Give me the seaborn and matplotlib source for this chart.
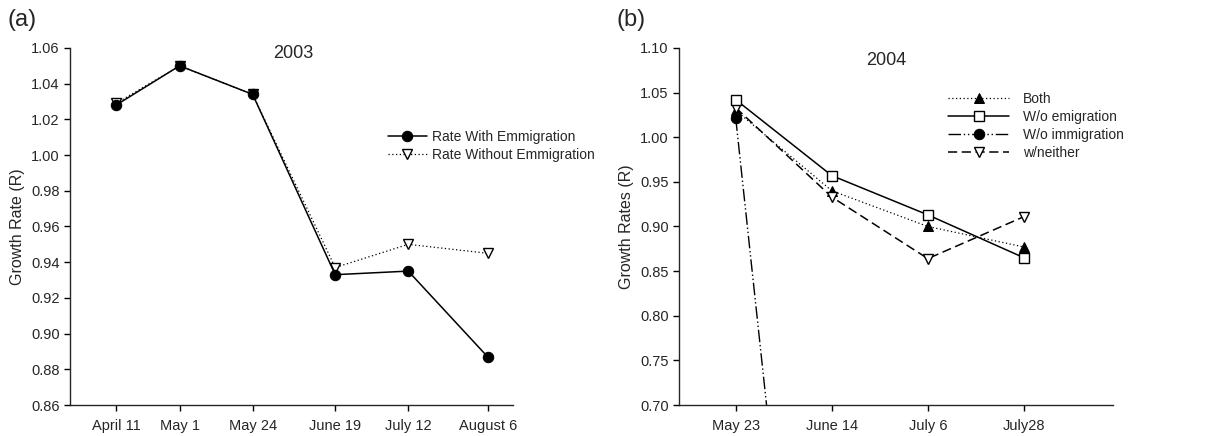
import pandas as pd
import seaborn as sns
import matplotlib
matplotlib.use('Agg')
import matplotlib.pyplot as plt

# 2003 sampling dates and rates
dates_2003 = ['2003-04-11', '2003-05-01', '2003-05-24', '2003-06-19', '2003-07-12', '2003-08-06']
labels_2003 = ['April 11', 'May 1', 'May 24', 'June 19', 'July 12', 'August 6']
rate_with_emm = [1.028, 1.050, 1.034, 0.933, 0.935, 0.887]
rate_without_emm = [1.029, 1.050, 1.034, 0.937, 0.950, 0.945]

# 2004 sampling dates and rates
dates_2004 = ['2004-05-23', '2004-06-14', '2004-07-06', '2004-07-28']
labels_2004 = ['May 23', 'June 14', 'July 6', 'July28']
both = [1.030, 0.940, 0.900, 0.877]
wo_emigration = [1.042, 0.957, 0.913, 0.865]
wo_immigration = [1.021, 0.020, 0.020, 0.020]
w_neither = [1.033, 0.933, 0.864, 0.911]


def to_days(dates):
    '''
    days since first sampling date
    '''
    d = pd.to_datetime(pd.Series(dates))
    return (d - d.iloc[0]).dt.days.values


sns.set_style('ticks')
plt.rcParams['font.family'] = ['Liberation Sans', 'DejaVu Sans']
plt.rcParams['axes.linewidth'] = 1.0

fig = plt.figure(figsize=(12.14, 4.36), dpi=100)
ax1 = fig.add_axes([0.0577, 0.0711, 0.3649, 0.8189])
ax2 = fig.add_axes([0.5593, 0.0711, 0.3575, 0.8189])

# panel (a)
df_a = pd.DataFrame({'day': to_days(dates_2003),
                     'with': rate_with_emm,
                     'without': rate_without_emm})

sns.lineplot(data=df_a, x='day', y='without', ax=ax1, color='black',
             linestyle=(0, (1, 2)), linewidth=0.9, marker='v', markersize=7.5,
             markerfacecolor='white', markeredgecolor='black', markeredgewidth=1,
             label='Rate Without Emmigration', zorder=2)
sns.lineplot(data=df_a, x='day', y='with', ax=ax1, color='black',
             linestyle='-', linewidth=1.1, marker='o', markersize=7.5,
             markerfacecolor='black', markeredgecolor='black',
             label='Rate With Emmigration', zorder=3)

ax1.set_xlim(-14.5, 125)
ax1.set_ylim(0.86, 1.06)
ax1.set_xticks(to_days(dates_2003))
ax1.set_xticklabels(labels_2003)
ax1.set_yticks([0.86 + 0.02 * i for i in range(11)])
ax1.set_yticklabels(['%.2f' % (0.86 + 0.02 * i) for i in range(11)])
ax1.set_xlabel('')
ax1.set_ylabel('Growth Rate (R)', fontsize=11.5)
ax1.text(0.503, 0.985, '2003', transform=ax1.transAxes, ha='center', va='center',
         fontsize=13)
h, l = ax1.get_legend_handles_labels()
ax1.legend(h[::-1], l[::-1], loc='upper left', bbox_to_anchor=(0.705, 0.785),
           frameon=False, fontsize=10, handlelength=2.8, handletextpad=0.4,
           labelspacing=0.25, borderaxespad=0)

# panel (b)
df_b = pd.DataFrame({'day': to_days(dates_2004),
                     'both': both,
                     'wo_em': wo_emigration,
                     'wo_im': wo_immigration,
                     'neither': w_neither})

sns.lineplot(data=df_b, x='day', y='both', ax=ax2, color='black',
             linestyle=(0, (1, 2)), linewidth=0.9, marker='^', markersize=7.5,
             markerfacecolor='black', markeredgecolor='black',
             label='Both', zorder=3)
sns.lineplot(data=df_b, x='day', y='wo_em', ax=ax2, color='black',
             linestyle='-', linewidth=1.1, marker='s', markersize=7.5,
             markerfacecolor='white', markeredgecolor='black', markeredgewidth=1,
             label='W/o emigration', zorder=4)
sns.lineplot(data=df_b, x='day', y='wo_im', ax=ax2, color='black',
             linestyle=(0, (9, 2, 1, 2, 1, 2)), linewidth=1.0, marker='o',
             markersize=7.5, markerfacecolor='black', markeredgecolor='black',
             label='W/o immigration', zorder=2)
sns.lineplot(data=df_b, x='day', y='neither', ax=ax2, color='black',
             linestyle=(0, (6, 3)), linewidth=1.1, marker='v', markersize=7.5,
             markerfacecolor='white', markeredgecolor='black', markeredgewidth=1,
             label='w/neither', zorder=3)

ax2.set_xlim(-13, 86.4)
ax2.set_ylim(0.70, 1.10)
ax2.set_xticks(to_days(dates_2004))
ax2.set_xticklabels(labels_2004)
ax2.set_yticks([0.70 + 0.05 * i for i in range(9)])
ax2.set_yticklabels(['%.2f' % (0.70 + 0.05 * i) for i in range(9)])
ax2.set_xlabel('')
ax2.set_ylabel('Growth Rates (R)', fontsize=11.5)
ax2.text(0.477, 0.965, '2004', transform=ax2.transAxes, ha='center', va='center',
         fontsize=13)
ax2.legend(loc='upper left', bbox_to_anchor=(0.607, 0.893), frameon=False,
           fontsize=10, handlelength=4.4, handletextpad=1.0,
           labelspacing=0.3, borderaxespad=0)

for ax in (ax1, ax2):
    sns.despine(ax=ax)
    ax.tick_params(axis='both', labelsize=10.5, length=4, width=1,
                   direction='out', color='black')
    ax.tick_params(axis='x', pad=6)
    ax.grid(False)

fig.text(0.006, 0.955, '(a)', fontsize=17, va='center')
fig.text(0.508, 0.955, '(b)', fontsize=17, va='center')

fig.savefig('out.png', dpi=100)
